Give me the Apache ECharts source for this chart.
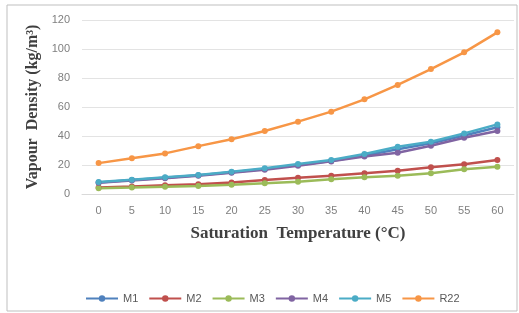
<!DOCTYPE html>
<html>
<head>
<meta charset="utf-8">
<script src="https://cdn.jsdelivr.net/npm/echarts@6/dist/echarts.min.js"></script>
<style>
  html, body { margin: 0; padding: 0; background: #fff; }
  #chart { width: 519px; height: 313px; }
</style>
</head>
<body>
<div id="chart"></div>
<script>
// saturation temperature (°C)
const temps = ["0", "5", "10", "15", "20", "25", "30", "35", "40", "45", "50", "55", "60"];
const yTicks = [0, 20, 40, 60, 80, 100, 120];

// vapour density (kg/m3)
const m1 = [8.0, 9.6, 11.2, 12.9, 15.0, 17.3, 20.0, 22.8, 26.6, 30.8, 35.0, 40.3, 46.0];
const m2 = [4.5, 5.2, 6.0, 6.8, 8.0, 9.7, 11.2, 12.6, 14.3, 16.1, 18.4, 20.5, 23.4];
const m3 = [3.9, 4.4, 5.0, 5.6, 6.4, 7.4, 8.5, 10.1, 11.5, 12.6, 14.3, 17.0, 18.8];
const m4 = [7.8, 9.3, 10.9, 12.6, 14.6, 16.8, 19.4, 22.5, 25.8, 28.5, 33.3, 38.8, 43.4];
const m5 = [8.3, 9.9, 11.5, 13.1, 15.4, 17.7, 20.7, 23.4, 27.6, 32.6, 36.0, 41.8, 48.0];
const r22 = [21.3, 24.6, 28.0, 33.0, 37.8, 43.4, 49.9, 56.8, 65.3, 75.2, 86.2, 97.7, 111.5];

const names = ["M1", "M2", "M3", "M4", "M5", "R22"];
const colors = ["#4F81BD", "#C0504D", "#9BBB59", "#8064A2", "#4BACC6", "#F79646"];
const data = [m1, m2, m3, m4, m5, r22];

const chart = echarts.init(document.getElementById("chart"));

chart.setOption({
  animation: false,
  color: colors,
  graphic: [{
    type: "rect",
    shape: { x: 7, y: 5, width: 510, height: 306 },
    style: { fill: "none", stroke: "#bfbfbf", lineWidth: 1 },
    silent: true
  }],
  grid: { left: 82, right: 5, top: 20, bottom: 119 },
  legend: {
    data: names,
    top: 288,
    left: 80,
    itemWidth: 32,
    itemHeight: 8,
    itemGap: 10,
    textStyle: { color: "#595959", fontSize: 11, fontFamily: "Liberation Sans" }
  },
  xAxis: {
    type: "category",
    data: temps,
    boundaryGap: true,
    name: "Saturation  Temperature (°C)",
    nameLocation: "middle",
    nameGap: 31,
    nameTextStyle: { fontFamily: "Liberation Serif", fontWeight: "bold", fontSize: 17, color: "#404040" },
    axisLine: { lineStyle: { color: "#d9d9d9" } },
    axisTick: { show: false },
    axisLabel: { color: "#7f7f7f", fontSize: 11, margin: 11, fontFamily: "Liberation Sans" }
  },
  yAxis: {
    type: "value",
    min: 0,
    max: 120,
    interval: 20,
    name: "Vapour  Density (kg/m³)",
    nameLocation: "middle",
    nameGap: 37,
    nameTextStyle: { fontFamily: "Liberation Serif", fontWeight: "bold", fontSize: 16, color: "#404040" },
    axisLine: { show: false },
    axisTick: { show: false },
    axisLabel: {
      color: "#7f7f7f", fontSize: 11, margin: 12, fontFamily: "Liberation Sans",
      formatter: v => yTicks.includes(v) ? String(v) : ""
    },
    splitLine: { lineStyle: { color: "#e3e3e3" } }
  },
  series: names.map((n, i) => ({
    name: n,
    type: "line",
    data: data[i],
    symbol: "circle",
    symbolSize: 6,
    lineStyle: { width: 2.5 },
    z: i === 5 ? 3 : 2
  }))
});
</script>
</body>
</html>
